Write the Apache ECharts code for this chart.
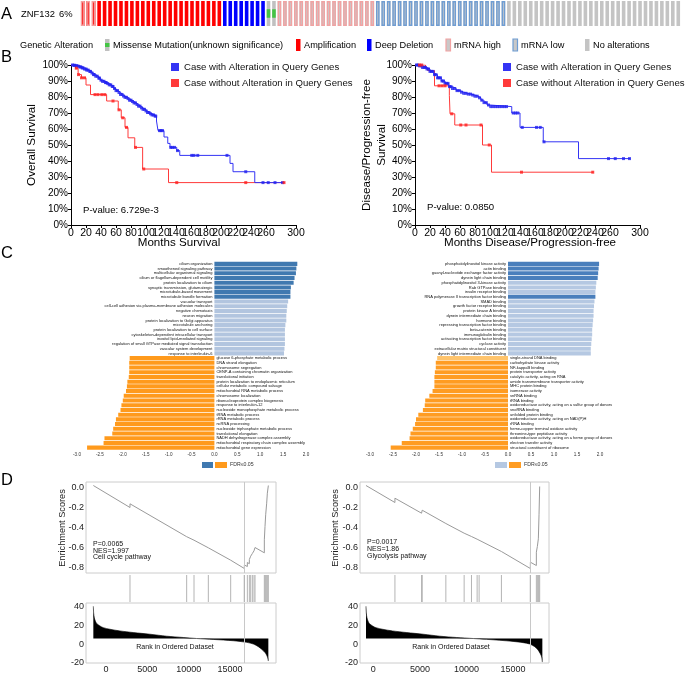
<!DOCTYPE html>
<html><head><meta charset="utf-8">
<script src="https://cdn.jsdelivr.net/npm/echarts@6.0.0/dist/echarts.min.js"></script>
<style>html,body{margin:0;padding:0;background:#fff;}#chart{width:685px;height:674px;}</style>
</head><body><div id="chart"></div>
<script>
// ---------------- Panel A : oncoprint (one code per sample) ----------------
// H = amplification + mRNA high, A = amplification, D = deep deletion, M = missense,
// U = mRNA high, L = mRNA low, N = no alteration
const oncoprintSamples = ("HHH" + "AAAAAAAAAA" + "AAAAAAAAAA" + "AAA" + "DDDDDDDD" + "MM" +
  "UUUUUUUUUU" + "UUUUUUUU" + "LLLLLLLLLL" + "LLLLLLLLLL" + "LLLL" +
  "NNNNNNNNNN" + "NNNNNNNNNN" + "NNNNNNNNNN" + "NN").split('');
const oncoGene = 'ZNF132';
const oncoPct = '6%';
const oncoLegendCodes = ['M', 'A', 'D', 'U', 'L', 'N'];
const oncoLegendLabels = ['Missense Mutation(unknown significance)', 'Amplification', 'Deep Deletion', 'mRNA high', 'mRNA low', 'No alterations'];

// ---------------- Panel B : Kaplan-Meier curves [month, survival %] ----------------
const kmNames = ['Case with Alteration in Query Genes', 'Case without Alteration in Query Genes'];
const kmTicks = [0,20,40,60,80,100,120,140,160,180,200,220,240,260,280,300];
const osAltCurve = [[0,100],[3,99.8],[6,99.5],[9,99.2],[12,98.8],[15,98.2],[18,97.5],[21,96.8],[24,96],[27,95],[30,94],[33,93],[36,91.8],[39,90.5],[42,89.8],[45,89],[48,88.4],[51,87.6],[54,86.6],[57,85.3],[60,84],[63,82.8],[66,81.6],[69,80.6],[72,79.8],[75,79],[78,78],[81,77.2],[84,76.3],[87,75.3],[90,74.3],[93,73.2],[96,72.3],[99,71.3],[102,70.3],[105,69.5],[108,68.8],[111,68.2],[113,68],[114,65],[116,59],[124,55],[129,51],[132,48.5],[141,46.5],[145,43.5],[212,38.5],[216,33.3],[245,26.5],[284,26.5]];
const osAltCensor = [2,4,5,7,8,10,12,13,15,16,18,20,21,23,25,26,28,30,31,33,35,37,38,40,42,44,46,47,49,51,53,55,56,58,60,62,64,66,68,70,72,74,76,78,80,82,84,86,88,90,92,94,96,98,100,102,104,106,108,110,112,113,118,120,122,133,135,138,142,161,164,169,208,233,256,263,272,282];
const osNoAltCurve = [[0,100],[6,98],[9.5,94],[14,92],[20,87.5],[26,81.5],[47.5,77.5],[63,72],[67,67],[72,61],[76,54.5],[85,48.5],[95.5,35],[130,26.5],[285,26.5]];
const osNoAltCensor = [7,10,14,18,32,36,41,45,56,64,69,74,86,97,141,233,284];
const osPValue = 'P-value: 6.729e-3';

const dfsAltCurve = [[0,100],[5,99.5],[10,98.5],[15,97.5],[20,96],[25,94],[30,92],[35,90],[40,88.5],[45,86.5],[50,85.3],[55,84],[60,83],[65,82.3],[70,81.8],[75,81.2],[80,80.5],[84,79.5],[88,78],[92,76.5],[96,75],[100,74],[129,70],[140,61],[171,52],[218,41.5],[287,41.5]];
const dfsAltCensor = [2,4,6,8,10,12,14,16,18,20,22,24,26,28,30,32,34,36,38,40,42,44,46,48,50,53,56,59,62,65,68,71,74,77,80,83,86,89,92,95,98,101,104,107,110,113,116,119,122,131,134,137,143,162,167,172,258,267,278,286];
const dfsNoAltCurve = [[0,100],[14,98],[17,96.5],[26,87],[45.8,81],[46.7,69.5],[53,62.5],[90,50],[102,33],[238,33]];
const dfsNoAltCensor = [6,9,32,36,40,49,61,68,88,99,142,237];
const dfsPValue = 'P-value: 0.0850';

// ---------------- Panel C : GO enrichment (NES) ----------------
const goLeftTerms = ['cilium organization','smoothened signaling pathway','multicellular organismal signaling','cilium or flagellum-dependent cell motility','protein localization to cilium','synaptic transmission, glutamatergic','microtubule-based movement','microtubule bundle formation','vacuolar transport','cell-cell adhesion via plasma-membrane adhesion molecules','negative chemotaxis','neuron migration','protein localization to Golgi apparatus','microtubule anchoring','protein localization to cell surface','cytoskeleton-dependent intracellular transport','inositol lipid-mediated signaling','regulation of small GTPase mediated signal transduction','vascular system development','response to interleukin-6',
 'glucose 6-phosphate metabolic process','DNA strand elongation','chromosome segregation','CENP-A containing chromatin organization','translational initiation','protein localization to endoplasmic reticulum','cellular metabolic compound salvage','mitochondrial RNA metabolic process','chromosome localization','ribonucleoprotein complex biogenesis','response to interleukin-12','nucleoside monophosphate metabolic process','tRNA metabolic process','rRNA metabolic process','ncRNA processing','nucleoside triphosphate metabolic process','translational elongation','NADH dehydrogenase complex assembly','mitochondrial respiratory chain complex assembly','mitochondrial gene expression'];
const goLeftValues = [1.81,1.79,1.78,1.75,1.73,1.67,1.66,1.66,1.61,1.59,1.58,1.57,1.57,1.55,1.54,1.54,1.54,1.54,1.53,1.52,
 -1.85,-1.86,-1.86,-1.86,-1.87,-1.90,-1.91,-1.93,-1.98,-2.00,-2.03,-2.05,-2.10,-2.15,-2.17,-2.21,-2.23,-2.40,-2.42,-2.78];
const goLeftGroup = ['d','d','d','d','d','d','d','d','l','l','l','l','l','l','l','l','l','l','l','l',
 'o','o','o','o','o','o','o','o','o','o','o','o','o','o','o','o','o','o','o','o'];
const goRightTerms = ['phosphatidylinositol kinase activity','actin binding','guanyl-nucleotide exchange factor activity','dynein light chain binding','phosphatidylinositol 3-kinase activity','Rab GTPase binding','insulin receptor binding','RNA polymerase II transcription factor binding','SMAD binding','growth factor receptor binding','protein kinase A binding','dynein intermediate chain binding','hormone binding','repressing transcription factor binding','beta-catenin binding','immunoglobulin binding','activating transcription factor binding','cyclase activity','extracellular matrix structural constituent','dynein light intermediate chain binding',
 'single-strand DNA binding','carbohydrate kinase activity','NF-kappaB binding','protein transporter activity','catalytic activity, acting on RNA','amide transmembrane transporter activity','MHC protein binding','isomerase activity','snRNA binding','tRNA binding','oxidoreductase activity, acting on a sulfur group of donors','snoRNA binding','unfolded protein binding','oxidoreductase activity, acting on NAD(P)H','rRNA binding','heme-copper terminal oxidase activity','threonine-type peptidase activity','oxidoreductase activity, acting on a heme group of donors','electron transfer activity','structural constituent of ribosome'];
const goRightValues = [1.98,1.97,1.96,1.95,1.92,1.91,1.9,1.9,1.88,1.87,1.86,1.86,1.85,1.84,1.83,1.83,1.82,1.81,1.8,1.8,
 -1.54,-1.57,-1.57,-1.59,-1.60,-1.60,-1.60,-1.64,-1.71,-1.80,-1.81,-1.85,-1.95,-2.00,-2.02,-2.07,-2.12,-2.14,-2.31,-2.55];
const goRightGroup = ['d','d','d','d','l','l','l','d','l','l','l','l','l','l','l','l','l','l','l','l',
 'p','o','o','o','o','o','o','o','o','o','o','o','o','o','o','o','o','o','o','o'];
const goAxisTicks = ['-3.0','-2.5','-2.0','-1.5','-1.0','-0.5','0.0','0.5','1.0','1.5','2.0'];
const goLegendLabel = 'FDR\u22640.05';

// ---------------- Panel D : GSEA [rank, value] ----------------
const gseaLeftES = [[-1532,0.02],[2903,-0.20],[2903,-0.163],[9758,-0.492],[9758,-0.483],[10645,-0.527],[10645,-0.52],[12379,-0.603],[12379,-0.597],[15081,-0.727],[15081,-0.713],[16734,-0.81],[16734,-0.775],[17097,-0.79],[17097,-0.75],[17339,-0.762],[17339,-0.72],[17500,-0.728],[17500,-0.687],[17702,-0.697],[17702,-0.66],[17903,-0.67],[17903,-0.633],[18024,-0.64],[18024,-0.60],[19153,-0.653],[19153,-0.523],[19234,-0.527],[19234,-0.39],[19315,-0.393],[19315,-0.273],[19435,-0.28],[19435,-0.157],[19516,-0.16],[19516,-0.057],[19637,-0.063],[19637,0.02]];
const gseaLeftHits = [2903,9758,10645,12379,15081,16734,17097,17339,17500,17702,17903,18024,19153,19234,19315,19435,19516,19637];
const gseaLeftPeak = 16734;
const gseaLeftMetric = [[-1532,40.4],[-1492,33],[-1411,28],[-1290,24.6],[-1129,22],[-726,19.3],[-323,17.5],[484,15.8],[1694,14],[3306,12.3],[5322,10.5],[7338,8.4],[9354,7.0],[10968,5.9],[12984,4.9],[15403,3.5],[17016,1.8],[17822,0],[18427,-2.8],[18830,-5.6],[19234,-9.1],[19435,-11.9],[19556,-14.7],[19637,-18.2]];
const gseaLeftText = ['P=0.0065', 'NES=1.997', 'Cell cycle pathway'];
const gseaRightES = [[-786,0.02],[2321,-0.15],[2321,-0.107],[5178,-0.257],[5178,-0.24],[5250,-0.243],[5250,-0.227],[7786,-0.36],[7786,-0.353],[9750,-0.457],[9750,-0.45],[10536,-0.49],[10536,-0.483],[11143,-0.517],[11143,-0.51],[11357,-0.52],[11357,-0.513],[13750,-0.64],[13750,-0.627],[16857,-0.81],[16857,-0.747],[17500,-0.78],[17500,-0.647],[17607,-0.653],[17607,-0.59],[17714,-0.597],[17714,-0.513],[17786,-0.517],[17786,-0.273],[17857,-0.277],[17857,0.01]];
const gseaRightHits = [2321,5178,5250,7786,9750,10536,11143,11357,13750,16857,17500,17607,17714,17786,17857];
const gseaRightPeak = 16857;
const gseaRightMetric = [[-786,40.4],[-750,33],[-679,28],[-571,24.6],[-429,22],[-71,19.3],[286,17.5],[1000,15.8],[2071,14],[3571,12.3],[5357,10.5],[7143,8.4],[8929,7.0],[10714,5.9],[12143,5.0],[13571,4.0],[15000,2.8],[16071,1.5],[16786,0],[17321,-2.8],[17679,-6.3],[17929,-10.5],[18071,-14],[18143,-19.3]];
const gseaRightText = ['P=0.0017', 'NES=1.86', 'Glycolysis pathway'];
const gseaRankTicks = [0, 5000, 10000, 15000];
const gseaEsTicks = [0, -0.2, -0.4, -0.6, -0.8];
const gseaMetricTicks = [-20, 0, 20, 40];

// ======================= styling / assembly =======================
const FF = '"Liberation Sans", Arial, sans-serif';
const ONCO_STYLE = {
  H: {fill: '#ff0000', stroke: '#f4a0a0'},
  A: {fill: '#ff0000'},
  D: {fill: '#0000ff'},
  M: {fill: '#c0c0c0', mark: '#44c444'},
  U: {fill: '#c8c8c8', stroke: '#f2a2a2'},
  L: {fill: '#c8c8c8', stroke: '#6f9dd3'},
  N: {fill: '#c4c4c4'}
};
const BLUE = '#3434f4', RED = '#ff3a3a';
const GO_COL_L = {d: '#4079b0', l: '#b2c5df', o: '#ff9a1c'};
const GO_COL_R = {d: '#4a7fbc', l: '#b5c8e2', o: '#ff9c22', p: '#ffc46c'};

function stepAt(curve, t) { let s = curve[0][1]; for (const p of curve) { if (p[0] <= t) s = p[1]; else break; } return s; }
function censorPts(curve, times) { return times.map(t => [t, stepAt(curve, t)]); }

const grids = [
  {left: 80, top: 1, width: 601, height: 25},
  {left: 71, top: 65, width: 225, height: 160},
  {left: 415, top: 65, width: 225, height: 160},
  {left: 77, top: 261.5, width: 229, height: 188.5},
  {left: 370, top: 261.5, width: 230, height: 188.5},
  {left: 86, top: 482, width: 190, height: 91, show: true, borderColor: '#cccccc', borderWidth: 1},
  {left: 86, top: 575, width: 190, height: 27},
  {left: 86, top: 603, width: 190, height: 61, show: true, borderColor: '#cccccc', borderWidth: 1},
  {left: 360, top: 482, width: 189, height: 91, show: true, borderColor: '#cccccc', borderWidth: 1},
  {left: 360, top: 575, width: 189, height: 27},
  {left: 360, top: 603, width: 189, height: 61, show: true, borderColor: '#cccccc', borderWidth: 1}
];

function kmX(gi) {
  return {type: 'value', gridIndex: gi, min: 0, max: 300, interval: 20,
    axisLine: {lineStyle: {color: '#000', width: 1}}, axisTick: {length: 3, lineStyle: {color: '#000'}},
    axisLabel: {fontSize: 10.5, color: '#000', margin: 3, fontFamily: FF, hideOverlap: false, showMinLabel: true, showMaxLabel: true, customValues: kmTicks, formatter: v => String(v)}, splitLine: {show: false}};
}
function kmY(gi) {
  return {type: 'value', gridIndex: gi, min: 0, max: 100, interval: 10,
    axisLine: {show: true, lineStyle: {color: '#000', width: 1}}, axisTick: {show: true, length: 3, lineStyle: {color: '#000'}},
    axisLabel: {fontSize: 10, color: '#000', margin: 3, fontFamily: FF, formatter: '{value}%'}, splitLine: {show: false}};
}
function goX(gi) {
  return {type: 'value', gridIndex: gi, min: -3, max: 2, interval: 0.5,
    axisLine: {lineStyle: {color: '#999', width: 0.7}}, axisTick: {length: 2, lineStyle: {color: '#999', width: 0.7}},
    axisLabel: {fontSize: 4.6, color: '#333', margin: 2.5, fontFamily: FF, formatter: v => goAxisTicks[Math.round((v + 3) / 0.5)]}, splitLine: {show: false}};
}
function goY(gi, terms) {
  return {type: 'category', gridIndex: gi, data: terms, inverse: true, show: false};
}
function rankX(gi, min, max, labels) {
  return {type: 'value', gridIndex: gi, min: min, max: max, show: labels, axisLine: {show: false}, axisTick: {show: false}, splitLine: {show: false},
    axisLabel: {show: labels, customValues: gseaRankTicks, fontSize: 9, color: '#222', margin: 2, fontFamily: FF, formatter: v => String(Math.round(v))}};
}
function esY(gi) {
  return {type: 'value', gridIndex: gi, min: -0.855, max: 0.055, axisLine: {show: false}, axisTick: {show: false}, splitLine: {show: false},
    axisLabel: {customValues: gseaEsTicks, fontSize: 9, color: '#222', margin: 2, fontFamily: FF, formatter: v => v.toFixed(1)}};
}
function hitY(gi) { return {type: 'value', gridIndex: gi, min: 0, max: 1, show: false}; }
function metricY(gi) {
  return {type: 'value', gridIndex: gi, min: -20.3, max: 43.9, axisLine: {show: false}, axisTick: {show: false}, splitLine: {show: false},
    axisLabel: {customValues: gseaMetricTicks, fontSize: 9, color: '#222', margin: 2, fontFamily: FF, formatter: v => String(Math.round(v))}};
}

const xAxes = [
  {type: 'category', gridIndex: 0, data: oncoprintSamples.map((c, i) => i), show: false},
  kmX(1), kmX(2), goX(3), goX(4),
  rankX(5, -2419, 20563, false), rankX(6, -2419, 20563, false), rankX(7, -2419, 20563, true),
  rankX(8, -1428, 18857, false), rankX(9, -1428, 18857, false), rankX(10, -1428, 18857, true)
];
const yAxes = [
  {type: 'value', gridIndex: 0, min: 0, max: 1, show: false},
  kmY(1), kmY(2), goY(3, goLeftTerms), goY(4, goRightTerms),
  esY(5), hitY(6), metricY(7), esY(8), hitY(9), metricY(10)
];

const series = [];
// oncoprint
series.push({
  type: 'custom', xAxisIndex: 0, yAxisIndex: 0, silent: true,
  data: oncoprintSamples.map((c, i) => [i, 1]),
  renderItem: function (params, api) {
    const i = api.value(0);
    const code = oncoprintSamples[params.dataIndex];
    const st = ONCO_STYLE[code];
    const b = api.coord([i, 0]), t = api.coord([i, 1]);
    const w = api.size([1, 0])[0] * 0.66;
    const x = b[0] - w / 2, y = t[1], h = b[1] - t[1];
    const ch = [{type: 'rect', shape: {x: x, y: y, width: w, height: h}, style: {fill: st.fill}}];
    if (st.stroke) ch.push({type: 'rect', shape: {x: x + 0.7, y: y + 0.7, width: w - 1.4, height: h - 1.4}, style: {fill: 'none', stroke: st.stroke, lineWidth: 1.4}});
    if (st.mark) ch.push({type: 'rect', shape: {x: x, y: y + h * 0.33, width: w, height: h * 0.34}, style: {fill: st.mark}});
    return {type: 'group', children: ch};
  }
});
// KM
function kmSeries(ax, altCurve, altCens, noCurve, noCens) {
  series.push({name: kmNames[0], type: 'line', step: 'end', xAxisIndex: ax, yAxisIndex: ax, data: altCurve, symbol: 'none', lineStyle: {color: BLUE, width: 1}, itemStyle: {color: BLUE}, z: 3});
  series.push({name: kmNames[1], type: 'line', step: 'end', xAxisIndex: ax, yAxisIndex: ax, data: noCurve, symbol: 'none', lineStyle: {color: RED, width: 1}, itemStyle: {color: RED}, z: 2});
  series.push({name: 'c1', type: 'scatter', xAxisIndex: ax, yAxisIndex: ax, data: censorPts(altCurve, altCens), symbol: 'rect', symbolSize: [3, 3], itemStyle: {color: '#2020f0'}, z: 4, silent: true});
  series.push({name: 'c2', type: 'scatter', xAxisIndex: ax, yAxisIndex: ax, data: censorPts(noCurve, noCens), symbol: 'rect', symbolSize: [3, 3], itemStyle: {color: '#ff2020'}, z: 4, silent: true});
}
kmSeries(1, osAltCurve, osAltCensor, osNoAltCurve, osNoAltCensor);
kmSeries(2, dfsAltCurve, dfsAltCensor, dfsNoAltCurve, dfsNoAltCensor);
// GO bars
function goSeries(ax, values, groups, cols) {
  series.push({type: 'bar', xAxisIndex: ax, yAxisIndex: ax, barCategoryGap: '14%', silent: true, clip: false,
    data: values.map((v, i) => ({value: v, itemStyle: {color: cols[groups[i]]}, label: {position: v >= 0 ? 'left' : 'right'}})),
    label: {show: true, formatter: '{b}', fontSize: 4, color: '#111', distance: 2, fontFamily: FF}});
}
goSeries(3, goLeftValues, goLeftGroup, GO_COL_L);
goSeries(4, goRightValues, goRightGroup, GO_COL_R);
// GSEA
function peakLine(v) { return {silent: true, symbol: 'none', label: {show: false}, lineStyle: {color: '#c8c8c8', width: 1, type: 'solid'}, data: [{xAxis: v}]}; }
function gseaSeries(base, es, hits, peak, metric) {
  series.push({type: 'line', xAxisIndex: base, yAxisIndex: base, data: es, symbol: 'none', clip: false, lineStyle: {color: '#9a9a9a', width: 1}, markLine: peakLine(peak), silent: true});
  series.push({type: 'custom', xAxisIndex: base + 1, yAxisIndex: base + 1, silent: true, data: hits.concat([peak]).map(h => [h]),
    renderItem: function (params, api) {
      const p0 = api.coord([api.value(0), 0]), p1 = api.coord([api.value(0), 1]);
      return {type: 'line', shape: {x1: p0[0], y1: p0[1], x2: p1[0], y2: p1[1]}, style: {stroke: '#b4b4b4', lineWidth: 1}};
    }});
  series.push({type: 'line', xAxisIndex: base + 2, yAxisIndex: base + 2, data: metric, symbol: 'none', clip: false, smooth: 0.3,
    lineStyle: {color: '#000', width: 0.6}, areaStyle: {color: '#000', opacity: 1, origin: 6}, markLine: peakLine(peak), silent: true});
}
gseaSeries(5, gseaLeftES, gseaLeftHits, gseaLeftPeak, gseaLeftMetric);
gseaSeries(8, gseaRightES, gseaRightHits, gseaRightPeak, gseaRightMetric);

// ---------- graphic texts ----------
function txt(x, y, s, size, opt) {
  opt = opt || {};
  return {type: 'text', x: x, y: y, rotation: opt.rot || 0, silent: true, z: 50,
    style: {text: s, fontSize: size, fontFamily: FF, fill: opt.color || '#000', textAlign: opt.align || 'left', textVerticalAlign: 'middle', fontWeight: opt.weight || 'normal'}};
}
function rect(x, y, w, h, fill, stroke) {
  return {type: 'rect', silent: true, z: 50, shape: {x: x, y: y, width: w, height: h}, style: {fill: fill, stroke: stroke || null, lineWidth: stroke ? 1.2 : 0}};
}
const graphics = [];
graphics.push(txt(1, 14, 'A', 16.5), txt(1, 57, 'B', 16.5), txt(1, 253, 'C', 16.5), txt(1, 480, 'D', 16.5));
graphics.push(txt(21, 14, oncoGene, 9.4), txt(59, 14, oncoPct, 9.4));
graphics.push(txt(20, 45, 'Genetic Alteration', 9.2));
const legX = [105, 296, 367, 446, 513, 585];
oncoLegendCodes.forEach((c, i) => {
  const st = ONCO_STYLE[c];
  graphics.push(rect(legX[i], 39, 4.5, 12, st.fill, st.stroke));
  if (st.mark) graphics.push(rect(legX[i], 43, 4.5, 4, st.mark));
  graphics.push(txt(legX[i] + 8, 45.5, oncoLegendLabels[i], 9.2));
});
graphics.push(txt(32, 145, 'Overall Survival', 11.7, {rot: Math.PI / 2, align: 'center'}));
graphics.push(txt(367, 145, 'Disease/Progression-free', 11.7, {rot: Math.PI / 2, align: 'center'}));
graphics.push(txt(382, 145, 'Survival', 11.7, {rot: Math.PI / 2, align: 'center'}));
graphics.push(txt(179, 243, 'Months Survival', 11.6, {align: 'center'}));
graphics.push(txt(530, 243, 'Months Disease/Progression-free', 11.6, {align: 'center'}));
graphics.push(txt(83, 210, osPValue, 9.6), txt(427, 207, dfsPValue, 9.6));
// GO legends
graphics.push(rect(202, 462, 11, 6, GO_COL_L.d), rect(215, 462, 12, 6, GO_COL_L.o), txt(230, 465, goLegendLabel, 5.2, {color: '#333'}));
graphics.push(rect(495, 462, 12, 6, GO_COL_R.l), rect(509, 462, 12, 6, GO_COL_R.o), txt(524, 465, goLegendLabel, 5.2, {color: '#333'}));
// GSEA texts
graphics.push(txt(62, 528, 'Enrichment Scores', 9.2, {rot: Math.PI / 2, align: 'center', color: '#222'}));
graphics.push(txt(335, 528, 'Enrichment Scores', 9.2, {rot: Math.PI / 2, align: 'center', color: '#222'}));
gseaLeftText.forEach((s, i) => graphics.push(txt(93, 544 + i * 6.6, s, 7, {color: '#111'})));
gseaRightText.forEach((s, i) => graphics.push(txt(367, 542 + i * 6.8, s, 7, {color: '#111'})));
graphics.push(txt(175, 647, 'Rank in Ordered Dataset', 7, {align: 'center', color: '#111'}));
graphics.push(txt(451, 647, 'Rank in Ordered Dataset', 7, {align: 'center', color: '#111'}));

const chart = echarts.init(document.getElementById('chart'), null, {renderer: 'canvas'});
chart.setOption({
  animation: false,
  backgroundColor: '#ffffff',
  grid: grids,
  xAxis: xAxes,
  yAxis: yAxes,
  legend: [
    {data: kmNames, orient: 'vertical', left: 171, top: 62, itemWidth: 8, itemHeight: 8, itemGap: 6, icon: 'rect', selectedMode: false, padding: 0, textStyle: {fontSize: 9.6, color: '#111', fontFamily: FF}},
    {data: kmNames, orient: 'vertical', left: 503, top: 62, itemWidth: 8, itemHeight: 8, itemGap: 6, icon: 'rect', selectedMode: false, padding: 0, textStyle: {fontSize: 9.6, color: '#111', fontFamily: FF}}
  ],
  series: series,
  graphic: graphics
});
</script>
</body></html>
